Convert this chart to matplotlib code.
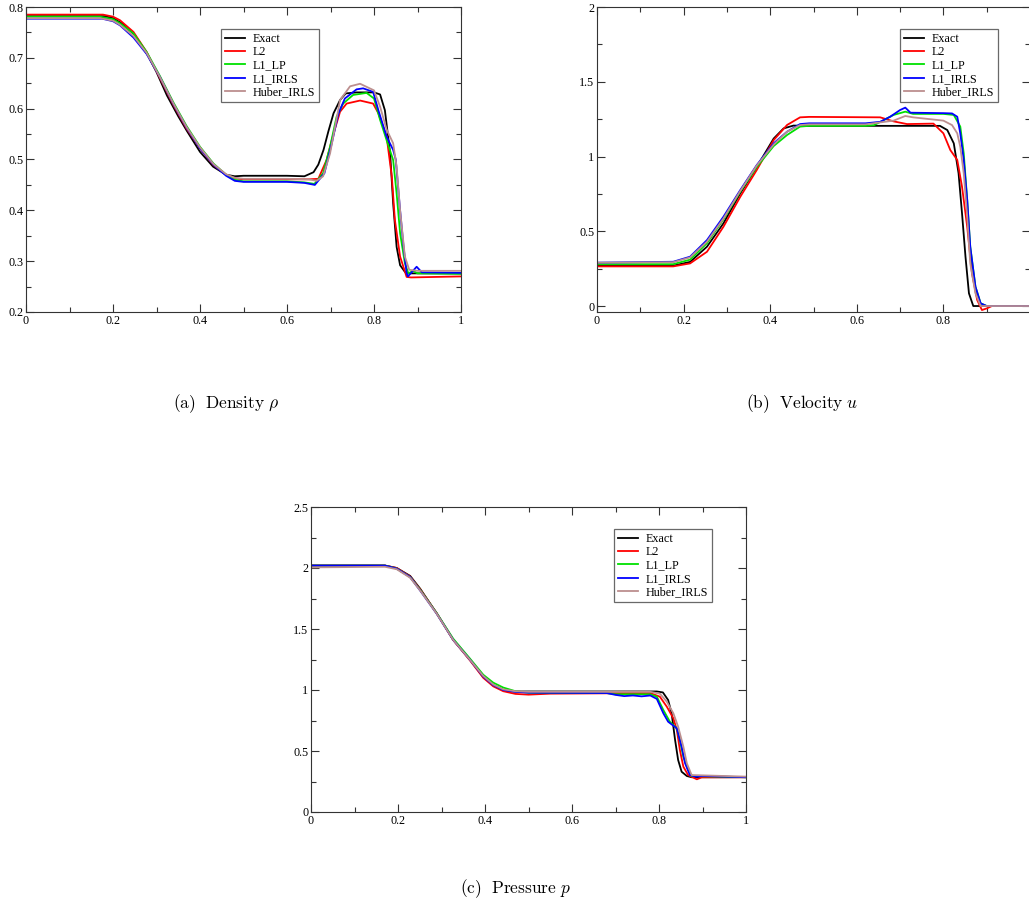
import matplotlib
matplotlib.use("Agg")
import matplotlib.pyplot as plt
from matplotlib.ticker import MultipleLocator, AutoMinorLocator, FuncFormatter

plt.rcParams['mathtext.fontset'] = 'cm'

series_names = ["Exact", "L2", "L1_LP", "L1_IRLS", "Huber_IRLS"]
series_colors = ["#000000", "#ff0000", "#00e000", "#0000ff", "#bc8f8f"]

# ---------------- Density ----------------
rho_exact_x = [0, 0.18, 0.2, 0.22, 0.25, 0.28, 0.3, 0.324, 0.35, 0.37, 0.4, 0.43, 0.46, 0.48, 0.5, 0.6, 0.64, 0.661, 0.672, 0.684, 0.695, 0.707, 0.722, 0.735, 0.76, 0.80, 0.814, 0.825, 0.837, 0.844, 0.852, 0.86, 0.871, 0.88, 1.0]
rho_exact_y = [0.782, 0.782, 0.778, 0.768, 0.745, 0.705, 0.672, 0.626, 0.585, 0.556, 0.515, 0.486, 0.470, 0.467, 0.468, 0.468, 0.467, 0.475, 0.49, 0.519, 0.555, 0.591, 0.617, 0.630, 0.632, 0.632, 0.628, 0.597, 0.513, 0.414, 0.328, 0.292, 0.279, 0.276, 0.276]
rho_l2_x = [0, 0.177, 0.2, 0.216, 0.247, 0.277, 0.308, 0.339, 0.369, 0.40, 0.431, 0.46, 0.48, 0.5, 0.6, 0.65, 0.672, 0.691, 0.707, 0.722, 0.737, 0.768, 0.798, 0.81, 0.829, 0.841, 0.848, 0.86, 0.875, 0.885, 1.0]
rho_l2_y = [0.785, 0.785, 0.781, 0.774, 0.751, 0.712, 0.660, 0.607, 0.561, 0.522, 0.489, 0.470, 0.463, 0.461, 0.461, 0.461, 0.462, 0.499, 0.551, 0.594, 0.610, 0.616, 0.61, 0.591, 0.545, 0.466, 0.381, 0.309, 0.269, 0.268, 0.27]
rho_lp_x = [0, 0.17, 0.2, 0.216, 0.247, 0.277, 0.308, 0.339, 0.369, 0.40, 0.431, 0.46, 0.48, 0.5, 0.6, 0.64, 0.663, 0.683, 0.699, 0.714, 0.729, 0.752, 0.783, 0.80, 0.814, 0.829, 0.844, 0.852, 0.86, 0.871, 0.879, 0.89, 0.90, 1.0]
rho_lp_y = [0.781, 0.781, 0.776, 0.768, 0.748, 0.712, 0.664, 0.612, 0.566, 0.525, 0.492, 0.470, 0.46, 0.457, 0.457, 0.455, 0.452, 0.473, 0.525, 0.584, 0.61, 0.627, 0.631, 0.62, 0.578, 0.538, 0.499, 0.433, 0.355, 0.296, 0.276, 0.281, 0.276, 0.275]
rho_irls_x = [0, 0.175, 0.2, 0.216, 0.247, 0.277, 0.308, 0.339, 0.369, 0.40, 0.431, 0.46, 0.48, 0.5, 0.6, 0.64, 0.664, 0.686, 0.703, 0.718, 0.733, 0.760, 0.775, 0.798, 0.81, 0.829, 0.844, 0.85, 0.86, 0.868, 0.875, 0.878, 0.898, 0.91, 1.0]
rho_irls_y = [0.777, 0.777, 0.772, 0.764, 0.740, 0.708, 0.662, 0.609, 0.563, 0.522, 0.49, 0.468, 0.458, 0.456, 0.456, 0.454, 0.450, 0.473, 0.532, 0.590, 0.620, 0.638, 0.640, 0.633, 0.597, 0.545, 0.519, 0.50, 0.40, 0.328, 0.276, 0.270, 0.289, 0.278, 0.277]
rho_huber_x = [0, 0.17, 0.2, 0.216, 0.247, 0.277, 0.308, 0.339, 0.369, 0.40, 0.431, 0.46, 0.48, 0.5, 0.6, 0.65, 0.668, 0.683, 0.699, 0.714, 0.722, 0.745, 0.768, 0.80, 0.814, 0.829, 0.844, 0.852, 0.86, 0.871, 0.881, 0.9, 1.0]
rho_huber_y = [0.778, 0.778, 0.773, 0.765, 0.743, 0.710, 0.662, 0.61, 0.564, 0.524, 0.491, 0.471, 0.464, 0.462, 0.462, 0.461, 0.458, 0.467, 0.512, 0.58, 0.617, 0.644, 0.649, 0.636, 0.604, 0.559, 0.532, 0.486, 0.40, 0.309, 0.283, 0.281, 0.281]

# ---------------- Velocity ----------------
u_exact_x = [0, 0.176, 0.215, 0.254, 0.292, 0.331, 0.369, 0.408, 0.431, 0.454, 0.48, 0.792, 0.809, 0.824, 0.835, 0.843, 0.851, 0.859, 0.869, 1.0]
u_exact_y = [0.27, 0.27, 0.295, 0.397, 0.553, 0.754, 0.93, 1.12, 1.188, 1.207, 1.205, 1.205, 1.177, 1.088, 0.888, 0.62, 0.33, 0.085, 0.0, 0.0]
u_l2_x = [0, 0.176, 0.215, 0.254, 0.292, 0.331, 0.369, 0.408, 0.439, 0.469, 0.49, 0.654, 0.685, 0.716, 0.777, 0.80, 0.816, 0.832, 0.843, 0.855, 0.866, 0.878, 0.889, 0.901, 0.912, 1.0]
u_l2_y = [0.265, 0.265, 0.285, 0.363, 0.53, 0.731, 0.91, 1.11, 1.211, 1.262, 1.265, 1.262, 1.235, 1.217, 1.22, 1.155, 1.043, 0.977, 0.798, 0.53, 0.219, 0.04, -0.027, -0.015, 0.0, 0.0]
u_lp_x = [0, 0.176, 0.215, 0.254, 0.292, 0.331, 0.369, 0.408, 0.439, 0.469, 0.49, 0.62, 0.64, 0.685, 0.712, 0.73, 0.80, 0.824, 0.839, 0.847, 0.855, 0.862, 0.874, 0.886, 0.9, 1.0]
u_lp_y = [0.28, 0.28, 0.31, 0.42, 0.58, 0.765, 0.93, 1.07, 1.144, 1.20, 1.205, 1.205, 1.21, 1.278, 1.30, 1.285, 1.285, 1.278, 1.2, 1.02, 0.709, 0.397, 0.129, 0.018, 0.0, 0.0]
u_irls_x = [0, 0.176, 0.215, 0.254, 0.292, 0.331, 0.369, 0.408, 0.439, 0.469, 0.49, 0.62, 0.654, 0.677, 0.70, 0.712, 0.724, 0.80, 0.82, 0.832, 0.839, 0.847, 0.855, 0.862, 0.874, 0.886, 0.9, 1.0]
u_irls_y = [0.29, 0.296, 0.33, 0.441, 0.597, 0.776, 0.943, 1.088, 1.166, 1.217, 1.222, 1.222, 1.232, 1.266, 1.311, 1.327, 1.293, 1.29, 1.288, 1.266, 1.155, 0.977, 0.709, 0.397, 0.129, 0.018, 0.0, 0.0]
u_huber_x = [0, 0.176, 0.215, 0.254, 0.292, 0.331, 0.369, 0.408, 0.439, 0.469, 0.49, 0.62, 0.685, 0.712, 0.73, 0.80, 0.82, 0.832, 0.839, 0.847, 0.855, 0.862, 0.874, 0.886, 1.0]
u_huber_y = [0.29, 0.293, 0.325, 0.43, 0.585, 0.77, 0.94, 1.08, 1.166, 1.21, 1.215, 1.215, 1.24, 1.271, 1.262, 1.24, 1.21, 1.155, 1.065, 0.887, 0.597, 0.285, 0.085, 0.0, 0.0]

# ---------------- Pressure ----------------
p_exact_x = [0, 0.17, 0.197, 0.228, 0.251, 0.289, 0.327, 0.366, 0.396, 0.419, 0.442, 0.465, 0.5, 0.795, 0.809, 0.821, 0.829, 0.837, 0.844, 0.852, 0.864, 0.875, 1.0]
p_exact_y = [2.02, 2.02, 2.0, 1.935, 1.83, 1.628, 1.41, 1.246, 1.109, 1.041, 1.0, 0.988, 0.988, 0.988, 0.98, 0.918, 0.809, 0.59, 0.426, 0.33, 0.295, 0.285, 0.285]
p_l2_x = [0, 0.17, 0.197, 0.228, 0.251, 0.289, 0.327, 0.366, 0.396, 0.419, 0.442, 0.47, 0.5, 0.55, 0.78, 0.802, 0.818, 0.833, 0.841, 0.848, 0.856, 0.867, 0.887, 0.898, 1.0]
p_l2_y = [2.02, 2.02, 2.0, 1.93, 1.825, 1.63, 1.41, 1.24, 1.1, 1.03, 0.99, 0.968, 0.962, 0.97, 0.975, 0.945, 0.863, 0.768, 0.672, 0.508, 0.371, 0.303, 0.268, 0.284, 0.285]
p_lp_x = [0, 0.17, 0.197, 0.228, 0.251, 0.289, 0.327, 0.366, 0.396, 0.419, 0.442, 0.47, 0.5, 0.68, 0.70, 0.78, 0.795, 0.81, 0.825, 0.841, 0.848, 0.856, 0.867, 0.875, 1.0]
p_lp_y = [2.02, 2.02, 1.995, 1.925, 1.82, 1.63, 1.42, 1.255, 1.125, 1.06, 1.02, 0.99, 0.978, 0.975, 0.965, 0.965, 0.945, 0.836, 0.74, 0.686, 0.59, 0.453, 0.344, 0.295, 0.285]
p_irls_x = [0, 0.17, 0.197, 0.228, 0.251, 0.289, 0.327, 0.366, 0.396, 0.419, 0.442, 0.47, 0.5, 0.68, 0.70, 0.72, 0.74, 0.76, 0.78, 0.795, 0.81, 0.821, 0.841, 0.852, 0.86, 0.871, 0.885, 0.9, 1.0]
p_irls_y = [2.02, 2.02, 1.995, 1.925, 1.815, 1.625, 1.41, 1.245, 1.11, 1.04, 1.0, 0.985, 0.978, 0.975, 0.96, 0.95, 0.955, 0.948, 0.955, 0.927, 0.809, 0.74, 0.686, 0.535, 0.399, 0.303, 0.29, 0.295, 0.285]
p_huber_x = [0, 0.17, 0.197, 0.228, 0.251, 0.289, 0.327, 0.366, 0.396, 0.419, 0.442, 0.47, 0.5, 0.78, 0.802, 0.818, 0.833, 0.844, 0.856, 0.864, 0.875, 1.0]
p_huber_y = [2.005, 2.01, 1.99, 1.92, 1.815, 1.625, 1.41, 1.245, 1.115, 1.045, 1.005, 0.99, 0.985, 0.985, 0.97, 0.904, 0.809, 0.699, 0.535, 0.399, 0.303, 0.29]

captions = [r"$\mathrm{(a)\ \ Density}\ \rho$", r"$\mathrm{(b)\ \ Velocity}\ u$", r"$\mathrm{(c)\ \ Pressure}\ p$"]

panels = [
    dict(data=[(rho_exact_x, rho_exact_y), (rho_l2_x, rho_l2_y), (rho_lp_x, rho_lp_y), (rho_irls_x, rho_irls_y), (rho_huber_x, rho_huber_y)],
         rect=[26/1029, 1-312/915, 435/1029, 305/915], ylim=(0.2, 0.8), ymaj=0.1,
         leg=((221-26)/435, (312-29)/305), cap=(226/1029, 1-404/915), hide_last_x=False),
    dict(data=[(u_exact_x, u_exact_y), (u_l2_x, u_l2_y), (u_lp_x, u_lp_y), (u_irls_x, u_irls_y), (u_huber_x, u_huber_y)],
         rect=[597/1029, 1-312/915, 433/1029, 305/915], ylim=(-0.04, 2.0), ymaj=0.5,
         leg=((900-597)/433, (312-29)/305), cap=(802/1029, 1-404/915), hide_last_x=True),
    dict(data=[(p_exact_x, p_exact_y), (p_l2_x, p_l2_y), (p_lp_x, p_lp_y), (p_irls_x, p_irls_y), (p_huber_x, p_huber_y)],
         rect=[311/1029, 1-812/915, 435/1029, 305/915], ylim=(0.0, 2.5), ymaj=0.5,
         leg=((614-311)/435, (812-529)/305), cap=(516/1029, 1-889/915), hide_last_x=False),
]

fig = plt.figure(figsize=(10.29, 9.15), dpi=100)
fmt = FuncFormatter(lambda v, p: "%g" % round(v, 6))
fmt_nolast = FuncFormatter(lambda v, p: "" if v > 0.999 else "%g" % round(v, 6))
serif = "Liberation Serif"

for i, pn in enumerate(panels):
    ax = fig.add_axes(pn["rect"])
    for (xs, ys), name, col in zip(pn["data"], series_names, series_colors):
        ax.plot(xs, ys, color=col, lw=1.3, label=name, solid_joinstyle="round")
    ax.set_xlim(0, 1)
    ax.set_ylim(*pn["ylim"])
    ax.xaxis.set_major_locator(MultipleLocator(0.2))
    ax.xaxis.set_minor_locator(AutoMinorLocator(2))
    ax.yaxis.set_major_locator(MultipleLocator(pn["ymaj"]))
    ax.yaxis.set_minor_locator(AutoMinorLocator(2))
    ax.xaxis.set_major_formatter(fmt_nolast if pn["hide_last_x"] else fmt)
    ax.yaxis.set_major_formatter(fmt)
    ax.tick_params(which="both", direction="in", top=True, right=True, width=0.8, color="#333333")
    ax.tick_params(which="major", length=6)
    ax.tick_params(which="minor", length=3.5)
    ax.tick_params(axis="x", pad=2.5)
    ax.tick_params(axis="y", pad=2)
    for lab in ax.get_xticklabels() + ax.get_yticklabels():
        lab.set_fontfamily(serif)
        lab.set_fontsize(8.7)
    for s in ax.spines.values():
        s.set_linewidth(0.8)
        s.set_color("#333333")
    leg = ax.legend(loc="upper left", bbox_to_anchor=pn["leg"], borderaxespad=0,
                    prop={"family": serif, "size": 8.7}, fancybox=False, frameon=True,
                    handlelength=1.6, handletextpad=0.65, labelspacing=0.1, borderpad=0.35)
    leg.get_frame().set_edgecolor("#444444")
    leg.get_frame().set_linewidth(0.9)
    fig.text(pn["cap"][0], pn["cap"][1], captions[i], ha="center", va="center", fontsize=12.5)

fig.savefig("out.png", dpi=100)
